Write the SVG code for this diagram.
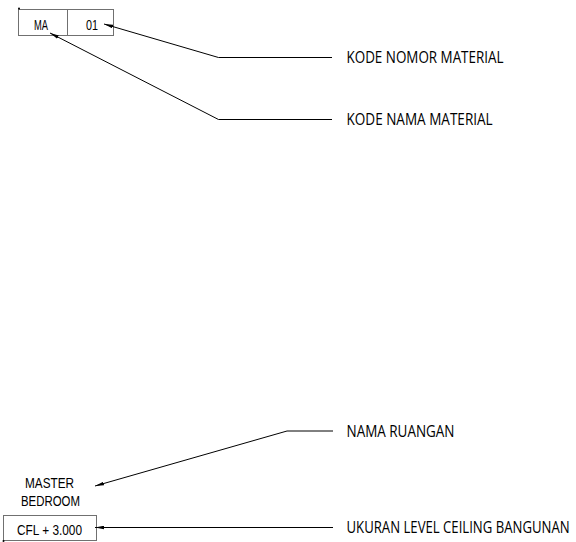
<svg xmlns="http://www.w3.org/2000/svg" width="576" height="542" viewBox="0 0 576 542">
<style>
.box{fill:none;stroke:#707070;stroke-width:1}
.lead{fill:none;stroke:#000;stroke-width:1}
.tag{font-family:"Liberation Sans",Arial,sans-serif;font-size:15px;fill:#000}
.lbl{font-family:"Open Sans","Noto Sans",sans-serif;font-size:17px;fill:#000}
</style>
<defs>
<marker id="ah" markerWidth="10" markerHeight="4" refX="9" refY="2" orient="auto" markerUnits="userSpaceOnUse">
<path d="M0,0.2 L9,2 L0,3.8 Z" fill="#000"/>
</marker>
</defs>
<rect width="576" height="542" fill="#fff"/>
<g id="material-tag">
<rect class="box" x="18.5" y="9.5" width="95" height="26"/>
<line class="box" x1="67.5" y1="9.5" x2="67.5" y2="35.5"/>
<circle cx="19" cy="8.5" r="1" fill="#000"/>
<text class="tag" x="34" y="29.5" textLength="14" lengthAdjust="spacingAndGlyphs">MA</text>
<text class="tag" x="86" y="29.5" textLength="12" lengthAdjust="spacingAndGlyphs">01</text>
</g>
<g id="room-tag">
<text class="tag" x="25" y="487.5" textLength="49" lengthAdjust="spacingAndGlyphs">MASTER</text>
<text class="tag" x="21" y="506" textLength="59" lengthAdjust="spacingAndGlyphs">BEDROOM</text>
<rect class="box" x="3.5" y="515.5" width="93" height="25"/>
<circle cx="3.5" cy="541" r="1" fill="#000"/>
<text class="tag" x="17" y="535" textLength="65" lengthAdjust="spacingAndGlyphs">CFL + 3.000</text>
</g>
<g id="connectors">
<path class="lead" d="M332,57.5 H218.5 L104,24" marker-end="url(#ah)"/>
<path class="lead" d="M332,119.5 H218.5 L50,33" marker-end="url(#ah)"/>
<path class="lead" d="M333,431 H287 L95,486" marker-end="url(#ah)"/>
<path class="lead" d="M333,527.5 H95" marker-end="url(#ah)"/>
</g>
<g id="label-kode-nomor"><text class="lbl" transform="translate(346.5,63) scale(0.72,1)" textLength="218" lengthAdjust="spacingAndGlyphs">KODE NOMOR MATERIAL</text></g>
<g id="label-kode-nama"><text class="lbl" transform="translate(346.5,125) scale(0.72,1)" textLength="203" lengthAdjust="spacingAndGlyphs">KODE NAMA MATERIAL</text></g>
<g id="label-nama-ruangan"><text class="lbl" transform="translate(346.5,437) scale(0.72,1)" textLength="150" lengthAdjust="spacingAndGlyphs">NAMA RUANGAN</text></g>
<g id="label-ukuran"><text class="lbl" transform="translate(346.5,533) scale(0.72,1)" textLength="310" lengthAdjust="spacingAndGlyphs">UKURAN LEVEL CEILING BANGUNAN</text></g>
</svg>
